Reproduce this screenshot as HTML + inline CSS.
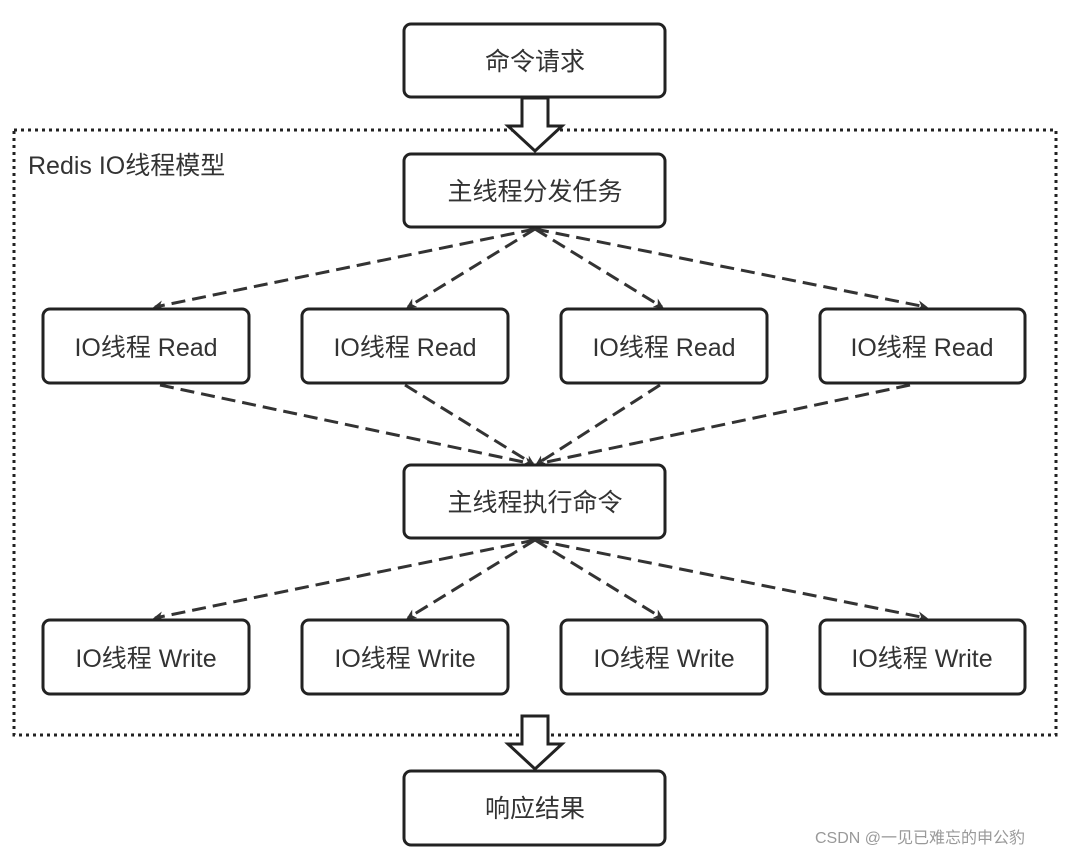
<!DOCTYPE html><html><head><meta charset="utf-8"><style>body{margin:0;background:#fff}svg text{font-family:"Liberation Sans","Noto Sans CJK SC",sans-serif;font-size:25px;fill:#333}</style></head><body>
<svg width="1080" height="856" xmlns="http://www.w3.org/2000/svg">
<defs><marker id="a" markerWidth="10" markerHeight="10" refX="8" refY="5" orient="auto" markerUnits="userSpaceOnUse" viewBox="0 0 10 10"><path d="M0,0 L10,5 L0,10 L3,5z" fill="#333"/></marker></defs>
<rect x="14" y="130" width="1042" height="605" fill="none" stroke="#222" stroke-width="3" stroke-dasharray="3,4"/>
<text x="28" y="174">Redis IO线程模型</text>
<g fill="#fff" stroke="#222" stroke-width="3">
<path d="M522,98 h26 v28 h14 l-27,25 l-27,-25 h14z"/>
<path d="M522,716 h26 v28 h14 l-27,25 l-27,-25 h14z"/>
</g>
<g fill="none" stroke="#333" stroke-width="3" stroke-dasharray="14,7" marker-end="url(#a)">
<line x1="535" y1="229" x2="155" y2="307"/><line x1="535" y1="229" x2="408" y2="307"/><line x1="535" y1="229" x2="662" y2="307"/><line x1="535" y1="229" x2="926" y2="307"/>
<line x1="160" y1="385" x2="533" y2="464"/><line x1="405" y1="385" x2="533" y2="464"/><line x1="660" y1="385" x2="537" y2="464"/><line x1="910" y1="385" x2="537" y2="464"/>
<line x1="535" y1="540" x2="155" y2="618"/><line x1="535" y1="540" x2="408" y2="618"/><line x1="535" y1="540" x2="662" y2="618"/><line x1="535" y1="540" x2="926" y2="618"/>
</g>
<g fill="#fff" stroke="#222" stroke-width="3">
<rect x="404" y="24" width="261" height="73" rx="7"/>
<rect x="404" y="154" width="261" height="73" rx="7"/>
<rect x="404" y="465" width="261" height="73" rx="7"/>
<rect x="404" y="771" width="261" height="74" rx="7"/>
<rect x="43" y="309" width="206" height="74" rx="7"/><rect x="302" y="309" width="206" height="74" rx="7"/><rect x="561" y="309" width="206" height="74" rx="7"/><rect x="820" y="309" width="205" height="74" rx="7"/>
<rect x="43" y="620" width="206" height="74" rx="7"/><rect x="302" y="620" width="206" height="74" rx="7"/><rect x="561" y="620" width="206" height="74" rx="7"/><rect x="820" y="620" width="205" height="74" rx="7"/>
</g>
<g text-anchor="middle">
<text x="535" y="70">命令请求</text>
<text x="535" y="200">主线程分发任务</text>
<text x="535" y="511">主线程执行命令</text>
<text x="535" y="817">响应结果</text>
<text x="146" y="356">IO线程 Read</text><text x="405" y="356">IO线程 Read</text><text x="664" y="356">IO线程 Read</text><text x="922" y="356">IO线程 Read</text>
<text x="146" y="667">IO线程 Write</text><text x="405" y="667">IO线程 Write</text><text x="664" y="667">IO线程 Write</text><text x="922" y="667">IO线程 Write</text>
</g>
<text x="815" y="843" style="font-size:16px;fill:#999">CSDN @一见已难忘的申公豹</text>
</svg></body></html>
